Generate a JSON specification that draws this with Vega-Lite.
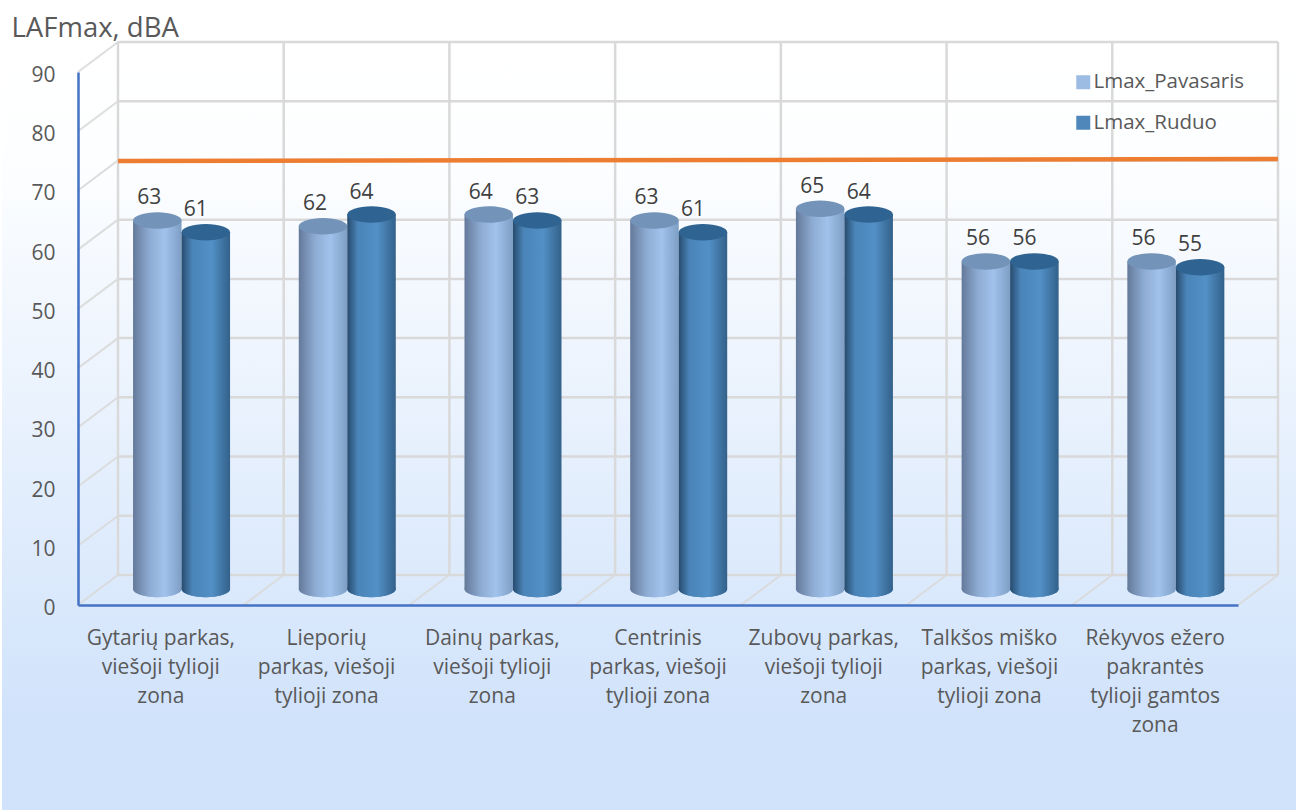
{
"$schema":"https://vega.github.io/schema/vega-lite/v6.json",
"autosize":{"type":"none"},
"padding":{"left":78,"top":72,"right":58,"bottom":206},
"width":1160,"height":533,
"background":"#ffffff",
"config":{"view":{"stroke":null},"font":"Open Sans","style":{"cell":{"stroke":null}}},
"datasets":{
"bars":[
{"site":"Gytarių parkas,\nviešoji tylioji\nzona","series":"Lmax_Pavasaris","value":63},
{"site":"Gytarių parkas,\nviešoji tylioji\nzona","series":"Lmax_Ruduo","value":61},
{"site":"Lieporių\nparkas, viešoji\ntylioji zona","series":"Lmax_Pavasaris","value":62},
{"site":"Lieporių\nparkas, viešoji\ntylioji zona","series":"Lmax_Ruduo","value":64},
{"site":"Dainų parkas,\nviešoji tylioji\nzona","series":"Lmax_Pavasaris","value":64},
{"site":"Dainų parkas,\nviešoji tylioji\nzona","series":"Lmax_Ruduo","value":63},
{"site":"Centrinis\nparkas, viešoji\ntylioji zona","series":"Lmax_Pavasaris","value":63},
{"site":"Centrinis\nparkas, viešoji\ntylioji zona","series":"Lmax_Ruduo","value":61},
{"site":"Zubovų parkas,\nviešoji tylioji\nzona","series":"Lmax_Pavasaris","value":65},
{"site":"Zubovų parkas,\nviešoji tylioji\nzona","series":"Lmax_Ruduo","value":64},
{"site":"Talkšos miško\nparkas, viešoji\ntylioji zona","series":"Lmax_Pavasaris","value":56},
{"site":"Talkšos miško\nparkas, viešoji\ntylioji zona","series":"Lmax_Ruduo","value":56},
{"site":"Rėkyvos ežero\npakrantės\ntylioji gamtos\nzona","series":"Lmax_Pavasaris","value":56},
{"site":"Rėkyvos ežero\npakrantės\ntylioji gamtos\nzona","series":"Lmax_Ruduo","value":55}
],
"backdrop":[{"x":-0.4586,"x2":7.35,"y":102.16,"y2":-34.6}],
"levels":[{"v":0},{"v":10},{"v":20},{"v":30},{"v":40},{"v":50},{"v":60},{"v":70},{"v":80},{"v":90}],
"columns":[{"k":0},{"k":1},{"k":2},{"k":3},{"k":4},{"k":5},{"k":6},{"k":7}],
"sideWall":[
{"x":0,"x2":0.2414,"y":0,"y2":5.07},{"x":0,"x2":0.2414,"y":10,"y2":15.07},{"x":0,"x2":0.2414,"y":20,"y2":25.07},{"x":0,"x2":0.2414,"y":30,"y2":35.07},{"x":0,"x2":0.2414,"y":40,"y2":45.07},{"x":0,"x2":0.2414,"y":50,"y2":55.07},{"x":0,"x2":0.2414,"y":60,"y2":65.07},{"x":0,"x2":0.2414,"y":70,"y2":75.07},{"x":0,"x2":0.2414,"y":80,"y2":85.07},{"x":0,"x2":0.2414,"y":90,"y2":95.07},
{"x":1,"x2":1.2414,"y":0,"y2":5.07},{"x":2,"x2":2.2414,"y":0,"y2":5.07},{"x":3,"x2":3.2414,"y":0,"y2":5.07},{"x":4,"x2":4.2414,"y":0,"y2":5.07},{"x":5,"x2":5.2414,"y":0,"y2":5.07},{"x":6,"x2":6.2414,"y":0,"y2":5.07},{"x":7,"x2":7.2414,"y":0,"y2":5.07}
],
"limit":[{"k":0,"limit":69.9},{"k":7,"limit":70.25}]
},
"resolve":{"scale":{"x":"independent","y":"independent"},"axis":{"x":"independent","y":"independent"}},
"layer":[
{
"layer":[
{"data":{"name":"backdrop"},
 "mark":{"type":"rect","color":{"gradient":"linear","x1":0,"y1":0,"x2":0,"y2":1,"stops":[{"offset":0,"color":"#ffffff"},{"offset":0.2,"color":"#fdfeff"},{"offset":0.88,"color":"#d1e3fb"},{"offset":1,"color":"#d1e3fb"}]}},
 "encoding":{
  "x":{"field":"x","type":"quantitative","scale":{"domain":[0,7],"nice":false,"zero":false},
   "axis":{"title":null,"labels":false,"ticks":false,"grid":false,"domainColor":"#4472c4","domainWidth":2.5,"zindex":1}},
  "x2":{"field":"x2"},
  "y":{"field":"y","type":"quantitative","scale":{"domain":[0,90],"nice":false,"zero":false},
   "axis":{"title":"LAFmax, dBA","titleAngle":0,"titleAlign":"left","titleBaseline":"alphabetic","titleX":-67,"titleY":-36,"titleFontSize":27.5,"titleFontWeight":"normal","titleColor":"#595959","titleFont":"Open Sans",
    "values":[0,10,20,30,40,50,60,70,80,90],"ticks":false,"grid":false,"labelFontSize":21,"labelColor":"#595959","labelPadding":23,"labelOffset":3.5,"labelFont":"Open Sans","domainColor":"#4472c4","domainWidth":2.5,"zindex":1}},
  "y2":{"field":"y2"}
 }},
{"data":{"name":"sideWall"},
 "mark":{"type":"rule","color":"#d9d9d9","strokeWidth":2,"opacity":0.9},
 "encoding":{"x":{"field":"x","type":"quantitative"},"x2":{"field":"x2"},"y":{"field":"y","type":"quantitative"},"y2":{"field":"y2"}}}
]
},
{
"layer":[
{"data":{"name":"levels"},
 "mark":{"type":"rule","color":"#d9d9d9","strokeWidth":2.5},
 "encoding":{
  "y":{"field":"v","type":"quantitative","scale":{"domain":[0,90],"range":[503,-30],"nice":false,"zero":false},"axis":null},
  "x":{"datum":0,"type":"quantitative","scale":{"domain":[0,7],"range":[40,1200],"nice":false,"zero":false},"axis":null},
  "x2":{"datum":7}
 }},
{"data":{"name":"columns"},
 "mark":{"type":"rule","color":"#d9d9d9","strokeWidth":2.5},
 "encoding":{
  "x":{"field":"k","type":"quantitative","axis":null},
  "y":{"datum":0,"type":"quantitative","axis":null},
  "y2":{"datum":90}
 }},
{"data":{"name":"limit"},
 "mark":{"type":"line","color":"#ed7d31","strokeWidth":4.5},
 "encoding":{
  "x":{"field":"k","type":"quantitative","axis":null},
  "y":{"field":"limit","type":"quantitative","axis":null}
 }}
]
},
{
"data":{"name":"bars"},
"encoding":{
 "x":{"field":"site","type":"nominal","sort":null,
  "scale":{"type":"band","range":[20.7,1180.7],"paddingInner":0.4146,"paddingOuter":0.2073},
  "axis":{"title":null,"orient":"bottom","domain":false,"ticks":false,"grid":false,"labelAngle":0,"labelAlign":"center","labelBaseline":"top","labelOffset":-20.7,"labelExpr":"split(datum.label,'\\n')","labelFontSize":21,"labelLineHeight":29,"labelColor":"#595959","labelPadding":22,"labelLimit":0,"labelFont":"Open Sans","labelOverlap":false,"zindex":1}},
 "xOffset":{"field":"series","type":"nominal","scale":{"type":"band","domain":["Lmax_Pavasaris","Lmax_Ruduo"],"paddingInner":0,"paddingOuter":0}},
 "y":{"field":"value","type":"quantitative","stack":null,"scale":{"domain":[-2.735,88.376],"nice":false,"zero":false},"axis":null}
},
"layer":[
{"mark":{"type":"point","filled":true,"opacity":1,"size":2352,"shape":"M-1,0A1,0.34,0,1,1,1,0A1,0.34,0,1,1,-1,0Z"},
 "encoding":{
  "y":{"datum":0,"type":"quantitative"},
  "color":{"field":"series","type":"nominal","scale":{"domain":["Lmax_Pavasaris","Lmax_Ruduo"],"range":["#9cbce3","#4f87bb"]},
   "legend":{"title":null,"orient":"none","legendX":995,"legendY":0,"symbolType":"square","symbolSize":196,"symbolStrokeWidth":0,"symbolOpacity":1,"labelFontSize":20.5,"labelColor":"#595959","labelFont":"Open Sans","labelOffset":0,"rowPadding":19.5,"labelLimit":300}}
 }},
{"transform":[{"filter":"datum.series==='Lmax_Pavasaris'"}],
 "mark":{"type":"point","filled":true,"opacity":1,"size":2352,"shape":"M-1,0A1,0.34,0,1,1,1,0A1,0.34,0,1,1,-1,0Z","color":{"gradient":"linear","x1":0,"y1":0,"x2":1,"y2":0,"stops":[{"offset":0,"color":"#64799a"},{"offset":0.35,"color":"#8fadd4"},{"offset":0.65,"color":"#a0c2ec"},{"offset":1,"color":"#7e9ec4"}]}},
 "encoding":{"y":{"datum":0,"type":"quantitative"}}},
{"transform":[{"filter":"datum.series==='Lmax_Pavasaris'"}],
 "mark":{"type":"bar","color":{"gradient":"linear","x1":0,"y1":0,"x2":1,"y2":0,"stops":[{"offset":0,"color":"#64799a"},{"offset":0.35,"color":"#8fadd4"},{"offset":0.65,"color":"#a0c2ec"},{"offset":1,"color":"#7e9ec4"}]}}},
{"transform":[{"filter":"datum.series==='Lmax_Pavasaris'"}],
 "mark":{"type":"point","filled":true,"opacity":1,"size":2352,"color":"#7393b8","shape":"M-1,0A1,0.34,0,1,1,1,0A1,0.34,0,1,1,-1,0Z"}},
{"transform":[{"filter":"datum.series==='Lmax_Ruduo'"}],
 "mark":{"type":"point","filled":true,"opacity":1,"size":2352,"shape":"M-1,0A1,0.34,0,1,1,1,0A1,0.34,0,1,1,-1,0Z","color":{"gradient":"linear","x1":0,"y1":0,"x2":1,"y2":0,"stops":[{"offset":0,"color":"#274b6e"},{"offset":0.22,"color":"#4a84b8"},{"offset":0.62,"color":"#5290c6"},{"offset":1,"color":"#33618a"}]}},
 "encoding":{"y":{"datum":0,"type":"quantitative"}}},
{"transform":[{"filter":"datum.series==='Lmax_Ruduo'"}],
 "mark":{"type":"bar","color":{"gradient":"linear","x1":0,"y1":0,"x2":1,"y2":0,"stops":[{"offset":0,"color":"#274b6e"},{"offset":0.22,"color":"#4a84b8"},{"offset":0.62,"color":"#5290c6"},{"offset":1,"color":"#33618a"}]}}},
{"transform":[{"filter":"datum.series==='Lmax_Ruduo'"}],
 "mark":{"type":"point","filled":true,"opacity":1,"size":2352,"color":"#2f6492","shape":"M-1,0A1,0.34,0,1,1,1,0A1,0.34,0,1,1,-1,0Z"}},
{"transform":[{"filter":"datum.series==='Lmax_Pavasaris'"}],
 "mark":{"type":"text","font":"Open Sans","fontSize":21,"color":"#404040","dx":-8,"dy":-22,"baseline":"middle"},
 "encoding":{"text":{"field":"value","type":"quantitative"}}},
{"transform":[{"filter":"datum.series==='Lmax_Ruduo'"}],
 "mark":{"type":"text","font":"Open Sans","fontSize":21,"color":"#404040","dx":-10,"dy":-22,"baseline":"middle"},
 "encoding":{"text":{"field":"value","type":"quantitative"}}}
]
}
]
}
